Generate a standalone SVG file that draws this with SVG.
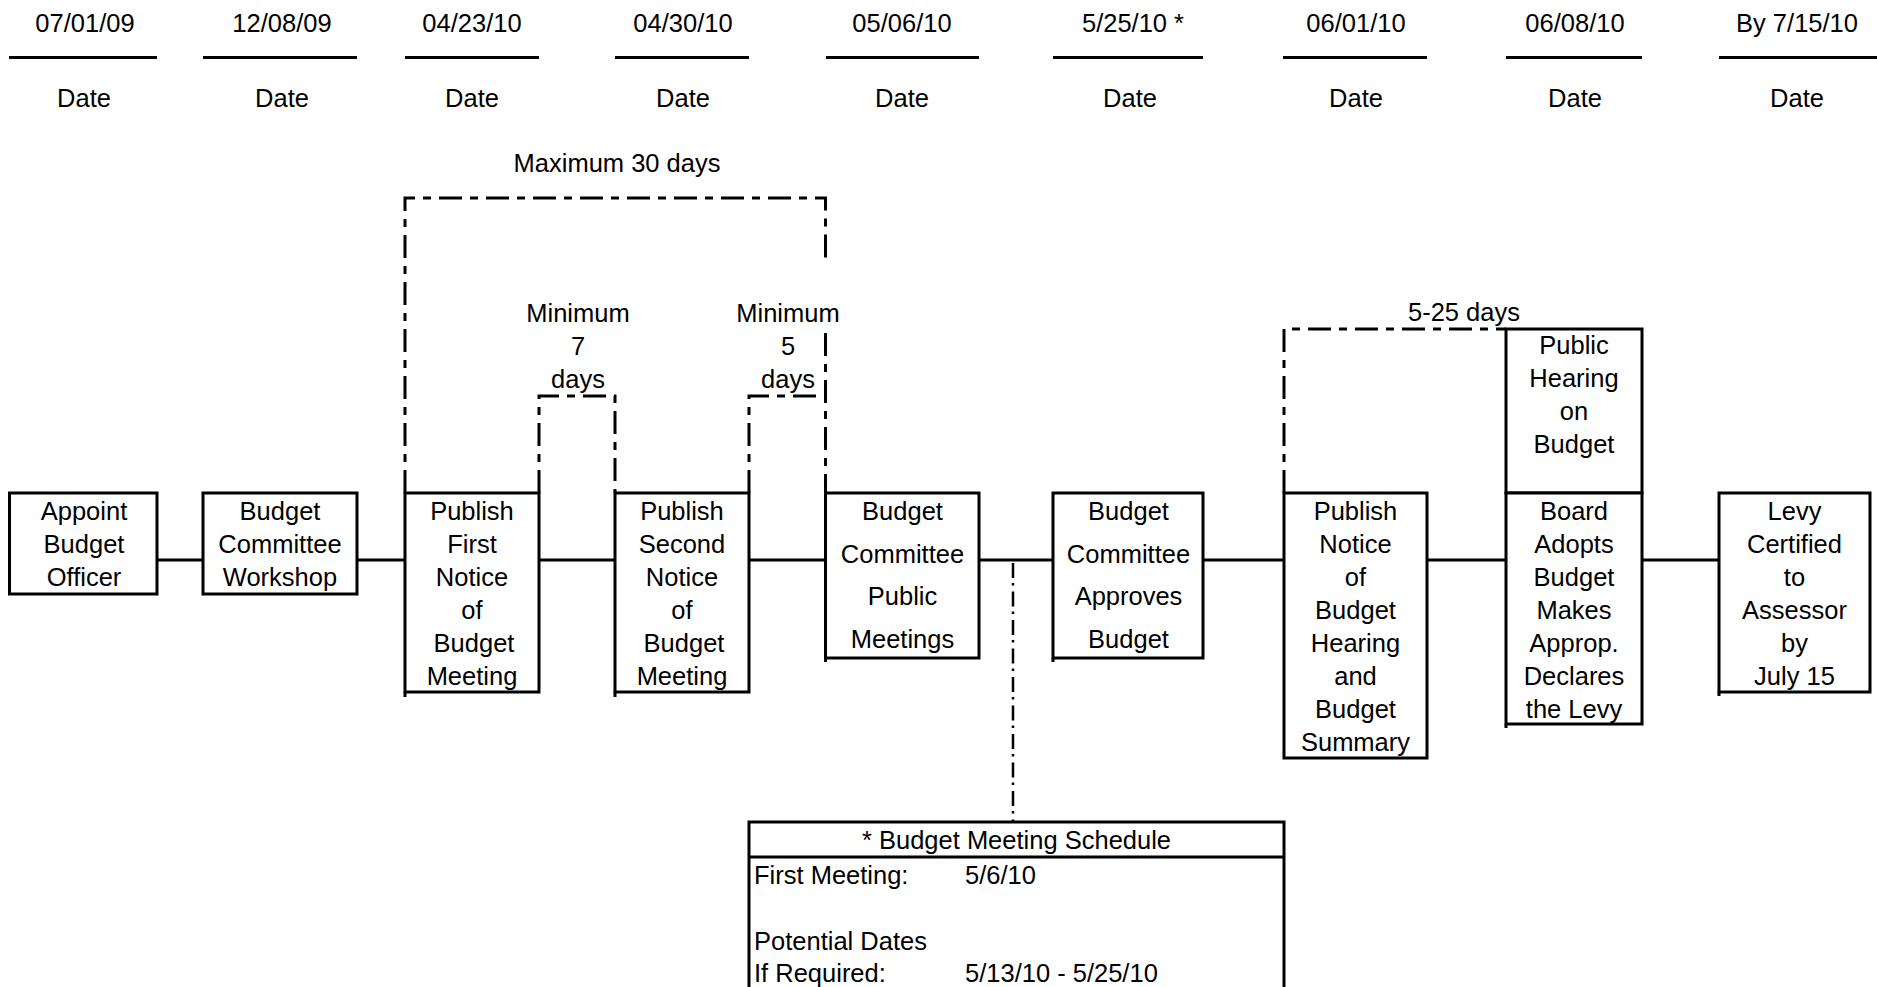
<svg xmlns="http://www.w3.org/2000/svg" width="1877" height="987" viewBox="0 0 1877 987">
<style>
  text { font-family: "Liberation Sans", Arial, Helvetica, sans-serif; font-size: 25.5px; fill: #000; text-anchor: middle; }
  text.left { text-anchor: start; }
  .box { fill: #fff; stroke: #000; stroke-width: 3; }
  .edge { stroke: #000; stroke-width: 3; fill: none; }
  .conn { stroke: #000; stroke-width: 3; fill: none; }
  .dash { stroke: #000; stroke-width: 3; fill: none; stroke-dasharray: 23 8 8 8; }
  .dashdot { stroke: #000; stroke-width: 2.5; fill: none; stroke-dasharray: 15 5 2.5 6; }
  .dateline { stroke: #000; stroke-width: 3; }
</style>
<rect x="0" y="0" width="1877" height="987" fill="#fff"/>

<g id="dates">
  <line class="dateline" x1="9" y1="57.5" x2="157" y2="57.5"/>
  <line class="dateline" x1="203" y1="57.5" x2="357" y2="57.5"/>
  <line class="dateline" x1="405" y1="57.5" x2="539" y2="57.5"/>
  <line class="dateline" x1="615" y1="57.5" x2="749" y2="57.5"/>
  <line class="dateline" x1="826" y1="57.5" x2="979" y2="57.5"/>
  <line class="dateline" x1="1053" y1="57.5" x2="1203" y2="57.5"/>
  <line class="dateline" x1="1283" y1="57.5" x2="1427" y2="57.5"/>
  <line class="dateline" x1="1506" y1="57.5" x2="1642" y2="57.5"/>
  <line class="dateline" x1="1719" y1="57.5" x2="1877" y2="57.5"/>
  <text x="85" y="32">07/01/09</text>
  <text x="282" y="32">12/08/09</text>
  <text x="472" y="32">04/23/10</text>
  <text x="683" y="32">04/30/10</text>
  <text x="902" y="32">05/06/10</text>
  <text x="1133" y="32">5/25/10 *</text>
  <text x="1356" y="32">06/01/10</text>
  <text x="1575" y="32">06/08/10</text>
  <text x="1797" y="32">By 7/15/10</text>
  <text x="84" y="107">Date</text>
  <text x="282" y="107">Date</text>
  <text x="472" y="107">Date</text>
  <text x="683" y="107">Date</text>
  <text x="902" y="107">Date</text>
  <text x="1130" y="107">Date</text>
  <text x="1356" y="107">Date</text>
  <text x="1575" y="107">Date</text>
  <text x="1797" y="107">Date</text>
</g>

<g id="connectors">
  <line class="conn" x1="157" y1="560" x2="203" y2="560"/>
  <line class="conn" x1="357" y1="560" x2="405" y2="560"/>
  <line class="conn" x1="539" y1="560" x2="615" y2="560"/>
  <line class="conn" x1="749" y1="560" x2="826" y2="560"/>
  <line class="conn" x1="979" y1="560" x2="1053" y2="560"/>
  <line class="conn" x1="1203" y1="560" x2="1284" y2="560"/>
  <line class="conn" x1="1427" y1="560" x2="1506" y2="560"/>
  <line class="conn" x1="1642" y1="560" x2="1719" y2="560"/>
  <path class="dash" d="M405 493 V198 H825.5 V263"/>
  <path class="dash" d="M825.5 333 V493"/>
  <path class="dash" d="M539 493 V396 H615 V493"/>
  <path class="dash" d="M749 493 V396 H825.5"/>
  <path class="dash" d="M1284 493 V329 H1506"/>
  <path class="dashdot" d="M1013 563 V822"/>
  <text x="617" y="172">Maximum 30 days</text>
  <text x="578" y="322">Minimum</text>
  <text x="578" y="355">7</text>
  <text x="578" y="388">days</text>
  <text x="788" y="322">Minimum</text>
  <text x="788" y="355">5</text>
  <text x="788" y="388">days</text>
  <text x="1464" y="321">5-25 days</text>
</g>

<g id="n1">
  <rect class="box" x="9.5" y="493" width="147.5" height="101"/>
  <text x="84" y="520">Appoint</text>
  <text x="84" y="553">Budget</text>
  <text x="84" y="586">Officer</text>
</g>

<g id="n2">
  <rect class="box" x="203" y="493" width="154" height="101"/>
  <text x="280" y="520">Budget</text>
  <text x="280" y="553">Committee</text>
  <text x="280" y="586">Workshop</text>
</g>

<g id="n3">
  <rect class="box" x="405" y="493" width="134" height="199"/>
  <line class="edge" x1="405" y1="692" x2="405" y2="697"/>
  <text x="472" y="520">Publish</text>
  <text x="472" y="553">First</text>
  <text x="472" y="586">Notice</text>
  <text x="472" y="619">of</text>
  <text x="474" y="652">Budget</text>
  <text x="472" y="685">Meeting</text>
</g>

<g id="n4">
  <rect class="box" x="615" y="493" width="134" height="199"/>
  <line class="edge" x1="615" y1="692" x2="615" y2="697"/>
  <text x="682" y="520">Publish</text>
  <text x="682" y="553">Second</text>
  <text x="682" y="586">Notice</text>
  <text x="682" y="619">of</text>
  <text x="684" y="652">Budget</text>
  <text x="682" y="685">Meeting</text>
</g>

<g id="n5">
  <rect class="box" x="825.5" y="493" width="153.5" height="165"/>
  <line class="edge" x1="825.5" y1="658" x2="825.5" y2="662"/>
  <text x="902.5" y="520">Budget</text>
  <text x="902.5" y="562.5">Committee</text>
  <text x="902.5" y="605">Public</text>
  <text x="902.5" y="647.5">Meetings</text>
</g>

<g id="n6">
  <rect class="box" x="1053" y="493" width="150" height="165"/>
  <line class="edge" x1="1053" y1="658" x2="1053" y2="662"/>
  <text x="1128.5" y="520">Budget</text>
  <text x="1128.5" y="562.5">Committee</text>
  <text x="1128.5" y="605">Approves</text>
  <text x="1128.5" y="647.5">Budget</text>
</g>

<g id="n7">
  <rect class="box" x="1284" y="493" width="143" height="265"/>
  <text x="1355.5" y="520">Publish</text>
  <text x="1355.5" y="553">Notice</text>
  <text x="1355.5" y="586">of</text>
  <text x="1355.5" y="619">Budget</text>
  <text x="1355.5" y="652">Hearing</text>
  <text x="1355.5" y="685">and</text>
  <text x="1355.5" y="718">Budget</text>
  <text x="1355.5" y="751">Summary</text>
</g>

<g id="n8a">
  <rect class="box" x="1506" y="329" width="136" height="164"/>
  <text x="1574" y="354">Public</text>
  <text x="1574" y="387">Hearing</text>
  <text x="1574" y="420">on</text>
  <text x="1574" y="453">Budget</text>
</g>

<g id="n8b">
  <rect class="box" x="1506" y="493" width="136" height="231"/>
  <line class="edge" x1="1506" y1="724" x2="1506" y2="728"/>
  <text x="1574" y="520">Board</text>
  <text x="1574" y="553">Adopts</text>
  <text x="1574" y="586">Budget</text>
  <text x="1574" y="619">Makes</text>
  <text x="1574" y="652">Approp.</text>
  <text x="1574" y="685">Declares</text>
  <text x="1574" y="718">the Levy</text>
</g>

<g id="n9">
  <rect class="box" x="1719" y="493" width="151" height="199"/>
  <line class="edge" x1="1719" y1="692" x2="1719" y2="696"/>
  <text x="1794.5" y="520">Levy</text>
  <text x="1794.5" y="553">Certified</text>
  <text x="1794.5" y="586">to</text>
  <text x="1794.5" y="619">Assessor</text>
  <text x="1794.5" y="652">by</text>
  <text x="1794.5" y="685">July 15</text>
</g>

<g id="schedule">
  <rect class="box" x="749" y="822" width="535" height="180"/>
  <line class="edge" x1="749" y1="857" x2="1284" y2="857"/>
  <text x="1016.5" y="849">* Budget Meeting Schedule</text>
  <text class="left" x="754" y="884">First Meeting:</text>
  <text class="left" x="965" y="884">5/6/10</text>
  <text class="left" x="754" y="950">Potential Dates</text>
  <text class="left" x="754" y="982">If Required:</text>
  <text class="left" x="965" y="982">5/13/10 - 5/25/10</text>
</g>
</svg>
